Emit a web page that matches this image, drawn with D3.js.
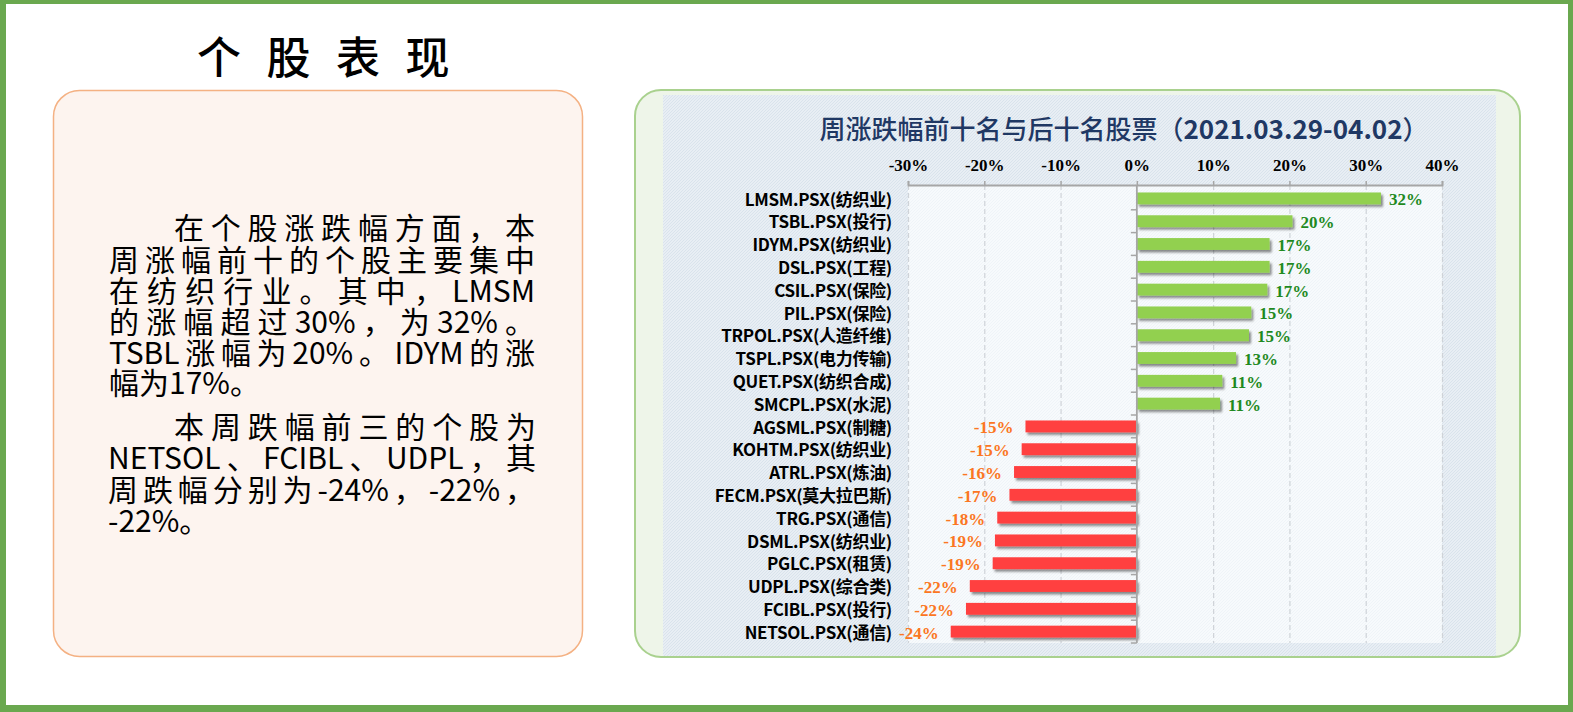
<!DOCTYPE html>
<html>
<head>
<meta charset="utf-8">
<script src="https://cdn.jsdelivr.net/npm/d3@7"></script>
<style>
  html, body { margin: 0; padding: 0; background: #fff; }
  svg { display: block; }
</style>
</head>
<body>
<svg id="root" width="1573" height="712"></svg>
<script>
// ---------- data ----------
const categories = [
  "LMSM.PSX(纺织业)", "TSBL.PSX(投行)", "IDYM.PSX(纺织业)", "DSL.PSX(工程)", "CSIL.PSX(保险)",
  "PIL.PSX(保险)", "TRPOL.PSX(人造纤维)", "TSPL.PSX(电力传输)", "QUET.PSX(纺织合成)", "SMCPL.PSX(水泥)",
  "AGSML.PSX(制糖)", "KOHTM.PSX(纺织业)", "ATRL.PSX(炼油)", "FECM.PSX(莫大拉巴斯)", "TRG.PSX(通信)",
  "DSML.PSX(纺织业)", "PGLC.PSX(租赁)", "UDPL.PSX(综合类)", "FCIBL.PSX(投行)", "NETSOL.PSX(通信)"
];
const values = [32.0, 20.4, 17.4, 17.4, 17.1, 15.0, 14.7, 13.0, 11.2, 10.9,
  -14.6, -15.1, -16.1, -16.7, -18.3, -18.6, -18.9, -21.9, -22.4, -24.4];
const tickValues = [-30, -20, -10, 0, 10, 20, 30, 40];
const pageTitle = "个股表现";
const chartTitleCJK = "周涨跌幅前十名与后十名股票（";
const chartTitleDate = "2021.03.29-04.02";
const chartTitleEnd = "）";
const bodyLines = [
  "在个股涨跌幅方面，本",
  "周涨幅前十的个股主要集中",
  "在纺织行业。其中，LMSM",
  "的涨幅超过30%，为32%。",
  "TSBL涨幅为20%。IDYM的涨",
  "幅为17%。",
  "本周跌幅前三的个股为",
  "NETSOL、FCIBL、UDPL，其",
  "周跌幅分别为-24%，-22%，",
  "-22%。"
];

// ---------- page ----------
const svg = d3.select("#root");
const defs = svg.append("defs");

const pat = defs.append("pattern").attr("id", "tex").attr("patternUnits", "userSpaceOnUse")
  .attr("width", 3).attr("height", 3);
pat.append("rect").attr("width", 3).attr("height", 3).attr("fill", "#e8eef4");
pat.append("path").attr("d", "M0,3 L3,0").attr("stroke", "#d6e0ea").attr("stroke-width", 0.8);

const pat2 = defs.append("pattern").attr("id", "tex2").attr("patternUnits", "userSpaceOnUse")
  .attr("width", 3).attr("height", 3);
pat2.append("rect").attr("width", 3).attr("height", 3).attr("fill", "#f7fafc");
pat2.append("path").attr("d", "M0,3 L3,0").attr("stroke", "#edf2f7").attr("stroke-width", 0.8);

const sh = defs.append("filter").attr("id", "shadow").attr("x", "-10%").attr("y", "-50%")
  .attr("width", "130%").attr("height", "250%");
sh.append("feDropShadow").attr("dx", 2).attr("dy", 2.5).attr("stdDeviation", 1.3)
  .attr("flood-color", "#000").attr("flood-opacity", 0.45);

defs.append("clipPath").attr("id", "panelClip").append("rect")
  .attr("x", 635).attr("y", 90).attr("width", 885).attr("height", 567).attr("rx", 26);

svg.append("rect").attr("width", 1573).attr("height", 712).attr("fill", "#6aa84f");
svg.append("rect").attr("x", 6).attr("y", 4).attr("width", 1562).attr("height", 701).attr("fill", "#ffffff");

// page title
svg.append("text").attr("x", 197).attr("y", 74)
  .attr("font-family", "'Noto Sans CJK SC'").attr("font-size", 44).attr("font-weight", 500)
  .attr("letter-spacing", 25.5).attr("fill", "#000").text(pageTitle);

// left panel
svg.append("rect").attr("x", 53.5).attr("y", 90.5).attr("width", 529).attr("height", 566).attr("rx", 26)
  .attr("fill", "#fdf4ef").attr("stroke", "#f4b183").attr("stroke-width", 1.5);

const lineSpec = [
  {x: 174, y: 239, w: 361}, {x: 109, y: 271, w: 426}, {x: 109, y: 302, w: 426},
  {x: 109, y: 333, w: 426}, {x: 109, y: 364, w: 426}, {x: 109, y: 394, w: null},
  {x: 174, y: 438, w: 362}, {x: 108, y: 469, w: 428}, {x: 108, y: 501, w: 427},
  {x: 108, y: 532, w: null}
];
bodyLines.forEach((t, i) => {
  const s = lineSpec[i];
  const el = svg.append("text").attr("x", s.x).attr("y", s.y)
    .attr("font-family", "'Noto Sans CJK SC'").attr("font-size", 30).attr("fill", "#000").text(t);
  if (!s.w) return;
  const tokens = t.match(/[A-Za-z0-9%.\-]+|./g);
  if (tokens.length < 2) return;
  const natural = el.node().getComputedTextLength();
  const gap = (s.w - natural) / (tokens.length - 1);
  const dx = [];
  tokens.forEach((tok, k) => {
    for (let j = 0; j < tok.length; j++) dx.push(j === 0 && k > 0 ? gap.toFixed(2) : 0);
  });
  el.attr("dx", dx.join(" "));
});

// right panel
const panel = svg.append("g");
panel.append("rect").attr("x", 635).attr("y", 90).attr("width", 885).attr("height", 567).attr("rx", 26)
  .attr("fill", "#eef5e9");
panel.append("rect").attr("x", 663).attr("y", 95).attr("width", 833).attr("height", 570)
  .attr("fill", "url(#tex)").attr("clip-path", "url(#panelClip)");
panel.append("rect").attr("x", 635).attr("y", 90).attr("width", 885).attr("height", 567).attr("rx", 26)
  .attr("fill", "none").attr("stroke", "#a9d18e").attr("stroke-width", 2);

// chart title
const ct = svg.append("text").attr("x", 1124).attr("y", 139).attr("text-anchor", "middle")
  .attr("font-family", "'Noto Sans CJK SC'").attr("font-size", 26).attr("fill", "#1f3864");
ct.append("tspan").attr("font-weight", 500).text(chartTitleCJK);
ct.append("tspan").attr("font-weight", 700).text(chartTitleDate);
ct.append("tspan").attr("font-weight", 500).text(chartTitleEnd);

// ---------- chart ----------
const plot = {left: 908, right: 1442, top: 187, bottom: 643};
const x = d3.scaleLinear().domain([-30, 40]).range([plot.left, plot.right]);
const y = d3.scaleBand().domain(categories).range([plot.top, plot.bottom]).paddingInner(0.48).paddingOuter(0.24);

svg.append("rect").attr("x", plot.left).attr("y", plot.top - 2).attr("width", plot.right - plot.left)
  .attr("height", plot.bottom - plot.top + 2).attr("fill", "url(#tex2)");

// gridlines
const grid = svg.append("g").attr("transform", `translate(0,${plot.top - 2})`)
  .call(d3.axisTop(x).tickValues(tickValues.filter(d => d !== 0)).tickSize(-(plot.bottom - plot.top + 2)).tickFormat(""));
grid.select(".domain").remove();
grid.selectAll("line").attr("stroke", "#cfd3d8").attr("stroke-dasharray", "5,3").attr("stroke-width", 1.2);

// top axis
const xa = svg.append("g").attr("transform", `translate(0,${plot.top - 2})`)
  .call(d3.axisTop(x).tickValues(tickValues).tickSize(4).tickPadding(10).tickFormat(d => d + "%"));
xa.select(".domain").attr("stroke", "#a6a6a6").attr("stroke-width", 1.8);
xa.selectAll(".tick line").attr("stroke", "#a6a6a6").attr("stroke-width", 1.5);
xa.selectAll("text").attr("font-family", "'Liberation Serif'").attr("font-weight", 700)
  .attr("font-size", 17).attr("fill", "#000");

// bars
const rows = categories.map((c, i) => ({c, v: values[i]}));
svg.append("g").selectAll("rect").data(rows).join("rect")
  .attr("x", d => x(Math.min(0, d.v)))
  .attr("y", d => y(d.c))
  .attr("width", d => Math.abs(x(d.v) - x(0)))
  .attr("height", y.bandwidth())
  .attr("fill", d => d.v >= 0 ? "#92d050" : "#ff4040")
  .attr("filter", "url(#shadow)");

// zero axis with ticks at band boundaries
const step = y.step();
const bounds = categories.map(c => y(c) - step * y.paddingInner() / 2).concat([plot.bottom]);
const za = svg.append("g");
za.append("line").attr("x1", x(0)).attr("x2", x(0)).attr("y1", plot.top - 2).attr("y2", plot.bottom)
  .attr("stroke", "#a6a6a6").attr("stroke-width", 1.8);
za.selectAll("line.t").data(bounds.slice(1)).join("line").attr("class", "t")
  .attr("x1", x(0) - 6).attr("x2", x(0)).attr("y1", d => d).attr("y2", d => d)
  .attr("stroke", "#a6a6a6").attr("stroke-width", 1.5);

// category labels
svg.append("g").selectAll("text").data(rows).join("text")
  .attr("x", 892).attr("y", d => y(d.c) + y.bandwidth() / 2 + 1)
  .attr("dy", "0.36em").attr("text-anchor", "end")
  .attr("font-family", "'Noto Sans CJK SC'").attr("font-weight", 700).attr("font-size", 17)
  .attr("letter-spacing", -0.3).attr("fill", "#000")
  .text(d => d.c);

// value labels
svg.append("g").selectAll("text").data(rows).join("text")
  .attr("x", d => d.v >= 0 ? x(d.v) + 8 : x(d.v) - 12)
  .attr("y", d => y(d.c) + y.bandwidth() / 2 + 1)
  .attr("dy", "0.35em").attr("text-anchor", d => d.v >= 0 ? "start" : "end")
  .attr("font-family", "'Liberation Serif'").attr("font-weight", 700).attr("font-size", 17)
  .attr("fill", d => d.v >= 0 ? "#1f8a1f" : "#fb7622")
  .text(d => Math.round(d.v) + "%");
</script>
</body>
</html>
